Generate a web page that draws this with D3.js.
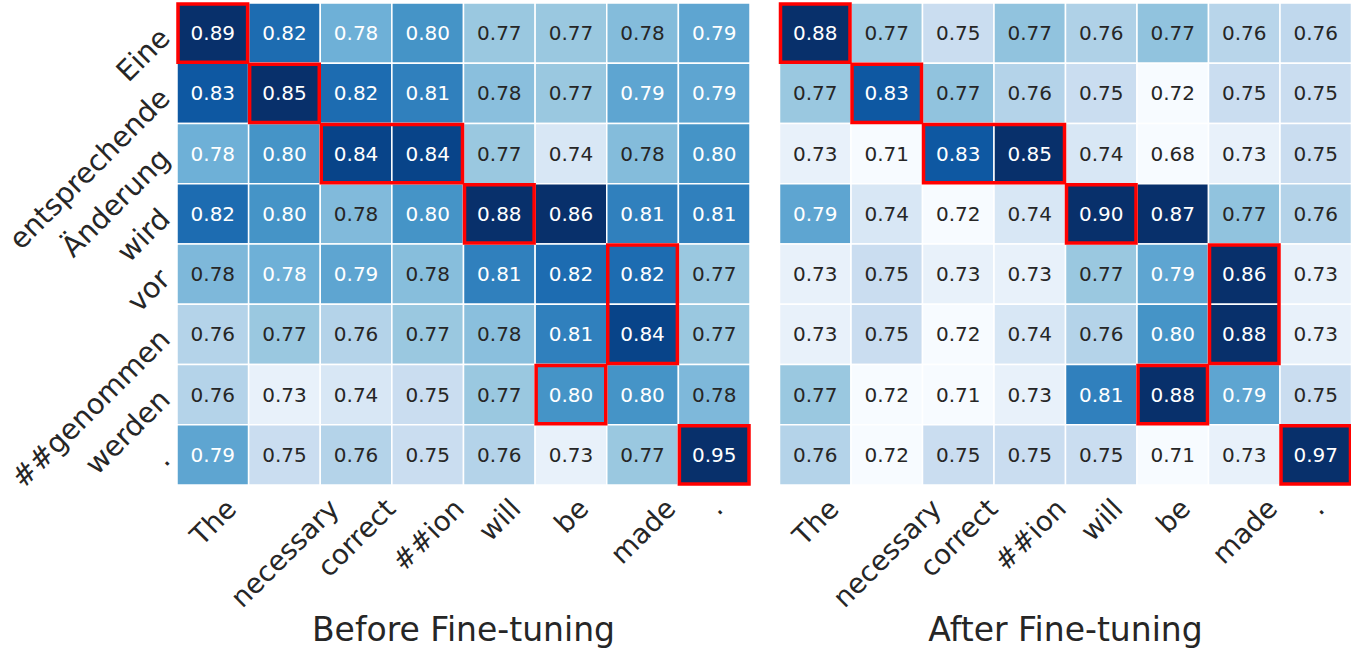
<!DOCTYPE html>
<html><head><meta charset="utf-8">
<script src="https://cdn.jsdelivr.net/npm/d3@7"></script>
<style>body{margin:0;background:#fff;} svg{display:block;font-family:"DejaVu Sans",sans-serif;}</style>
</head><body>
<svg id="chart" width="1351" height="650"></svg>
<script>
// ---- data ----
const xTokens = ["The","necessary","correct","##ion","will","be","made","."];
const yTokens = ["Eine","entsprechende","Änderung","wird","vor","##genommen","werden","."];
const beforeValues = [
  [0.89,0.82,0.784,0.80,0.77,0.77,0.777,0.79],
  [0.83,0.85,0.82,0.81,0.775,0.77,0.79,0.79],
  [0.784,0.80,0.84,0.84,0.77,0.74,0.777,0.80],
  [0.82,0.80,0.778,0.80,0.88,0.86,0.81,0.81],
  [0.779,0.784,0.79,0.776,0.81,0.82,0.82,0.77],
  [0.76,0.77,0.76,0.77,0.775,0.81,0.84,0.77],
  [0.76,0.73,0.74,0.75,0.77,0.80,0.80,0.779],
  [0.79,0.75,0.76,0.75,0.76,0.73,0.77,0.95]
];
const afterValues = [
  [0.88,0.768,0.75,0.773,0.762,0.773,0.758,0.755],
  [0.77,0.83,0.773,0.76,0.75,0.72,0.75,0.75],
  [0.73,0.71,0.83,0.85,0.74,0.68,0.73,0.75],
  [0.79,0.74,0.72,0.74,0.90,0.87,0.773,0.76],
  [0.73,0.75,0.73,0.73,0.77,0.79,0.86,0.73],
  [0.73,0.75,0.72,0.74,0.76,0.80,0.88,0.73],
  [0.77,0.72,0.71,0.73,0.81,0.88,0.79,0.75],
  [0.76,0.72,0.75,0.75,0.75,0.71,0.73,0.97]
];
// alignment boxes: [row, col, rowSpan, colSpan]
const alignBoxes = [[0,0,1,1],[1,1,1,1],[2,2,1,2],[3,4,1,1],[4,6,2,1],[6,5,1,1],[7,7,1,1]];
const panelTitles = ["Before Fine-tuning","After Fine-tuning"];
const colorDomain = [0.72, 0.85];
const bluesStops = ["#f7fbff","#deebf7","#c6dbef","#9ecae1","#6baed6","#4292c6","#2171b5","#08519c","#08306b"];

// ---- scales ----
const tScale = d3.scaleLinear().domain(colorDomain).range([0,1]).clamp(true);
const blues = d3.scaleLinear().domain(d3.range(9).map(i=>i/8)).range(bluesStops).interpolate(d3.interpolateRgb);
const color = v => blues(tScale(v));
function lum(c){
  const rgb = d3.rgb(c);
  const f = x => { x/=255; return x<=0.03928 ? x/12.92 : Math.pow((x+0.055)/1.055,2.4); };
  return 0.2126*f(rgb.r)+0.7152*f(rgb.g)+0.0722*f(rgb.b);
}
const fmt = d3.format(".2f");

const svg = d3.select("#chart");
const panels = [
  {values: beforeValues, x0:177, x1:750, title: panelTitles[0], ylabels:true},
  {values: afterValues, x0:779.5, x1:1351.5, title: panelTitles[1], ylabels:false}
];
const y0 = 3, y1 = 485;

panels.forEach(p => {
  const x = d3.scaleBand().domain(d3.range(xTokens.length)).range([p.x0,p.x1]);
  const y = d3.scaleBand().domain(d3.range(yTokens.length)).range([y0,y1]);
  const g = svg.append("g");
  const cells = [];
  p.values.forEach((row,i)=>row.forEach((v,j)=>cells.push({i,j,v})));
  g.selectAll("rect.cell").data(cells).join("rect")
    .attr("class","cell")
    .attr("x",d=>x(d.j)).attr("y",d=>y(d.i))
    .attr("width",x.bandwidth()).attr("height",y.bandwidth())
    .attr("fill",d=>color(d.v))
    .attr("stroke","#fff").attr("stroke-width",1.5);
  g.selectAll("text.annot").data(cells).join("text")
    .attr("class","annot")
    .attr("x",d=>x(d.j)+x.bandwidth()/2).attr("y",d=>y(d.i)+y.bandwidth()/2)
    .attr("text-anchor","middle").attr("dominant-baseline","central")
    .attr("font-size",20)
    .attr("fill",d=>lum(color(d.v))>0.408 ? "#262626" : "#ffffff")
    .text(d=>fmt(d.v));
  // alignment boxes
  g.selectAll("rect.box").data(alignBoxes).join("rect")
    .attr("class","box")
    .attr("x",d=>x(d[1])+1).attr("y",d=>y(d[0])+1)
    .attr("width",d=>x.bandwidth()*d[3]-2).attr("height",d=>y.bandwidth()*d[2]-2)
    .attr("fill","none").attr("stroke","#ff0000").attr("stroke-width",3.5);
  // x tick labels (rotated 45°, bbox centered on column)
  xTokens.forEach((t,j)=>{
    const cx = x(j)+x.bandwidth()/2;
    const txt = g.append("text")
      .attr("x",cx).attr("y",0)
      .attr("text-anchor","middle").attr("dominant-baseline","central")
      .attr("font-size",27.5).attr("fill","#262626")
      .attr("transform",`rotate(-45,${cx},0)`)
      .text(t);
    const bb = txt.node().getBBox();
    const w = bb.width, h = bb.height;
    const half = (w+h)*Math.SQRT1_2/2;
    txt.attr("y", y1+7+half).attr("transform",`rotate(-45,${cx},${y1+7+half})`);
  });
  // y tick labels
  if (p.ylabels) {
    yTokens.forEach((t,i)=>{
      const cy = y(i)+y.bandwidth()/2;
      const ax = p.x0-12;
      g.append("text")
        .attr("x",ax).attr("y",cy)
        .attr("text-anchor","end").attr("dominant-baseline","central")
        .attr("font-size",28.5).attr("fill","#262626")
        .attr("transform",`rotate(-45,${ax},${cy})`)
        .text(t);
    });
  }
  g.append("text")
    .attr("x",(p.x0+p.x1)/2).attr("y",641)
    .attr("text-anchor","middle").attr("font-size",33).attr("fill","#262626")
    .text(p.title);
});
</script>
</body></html>
